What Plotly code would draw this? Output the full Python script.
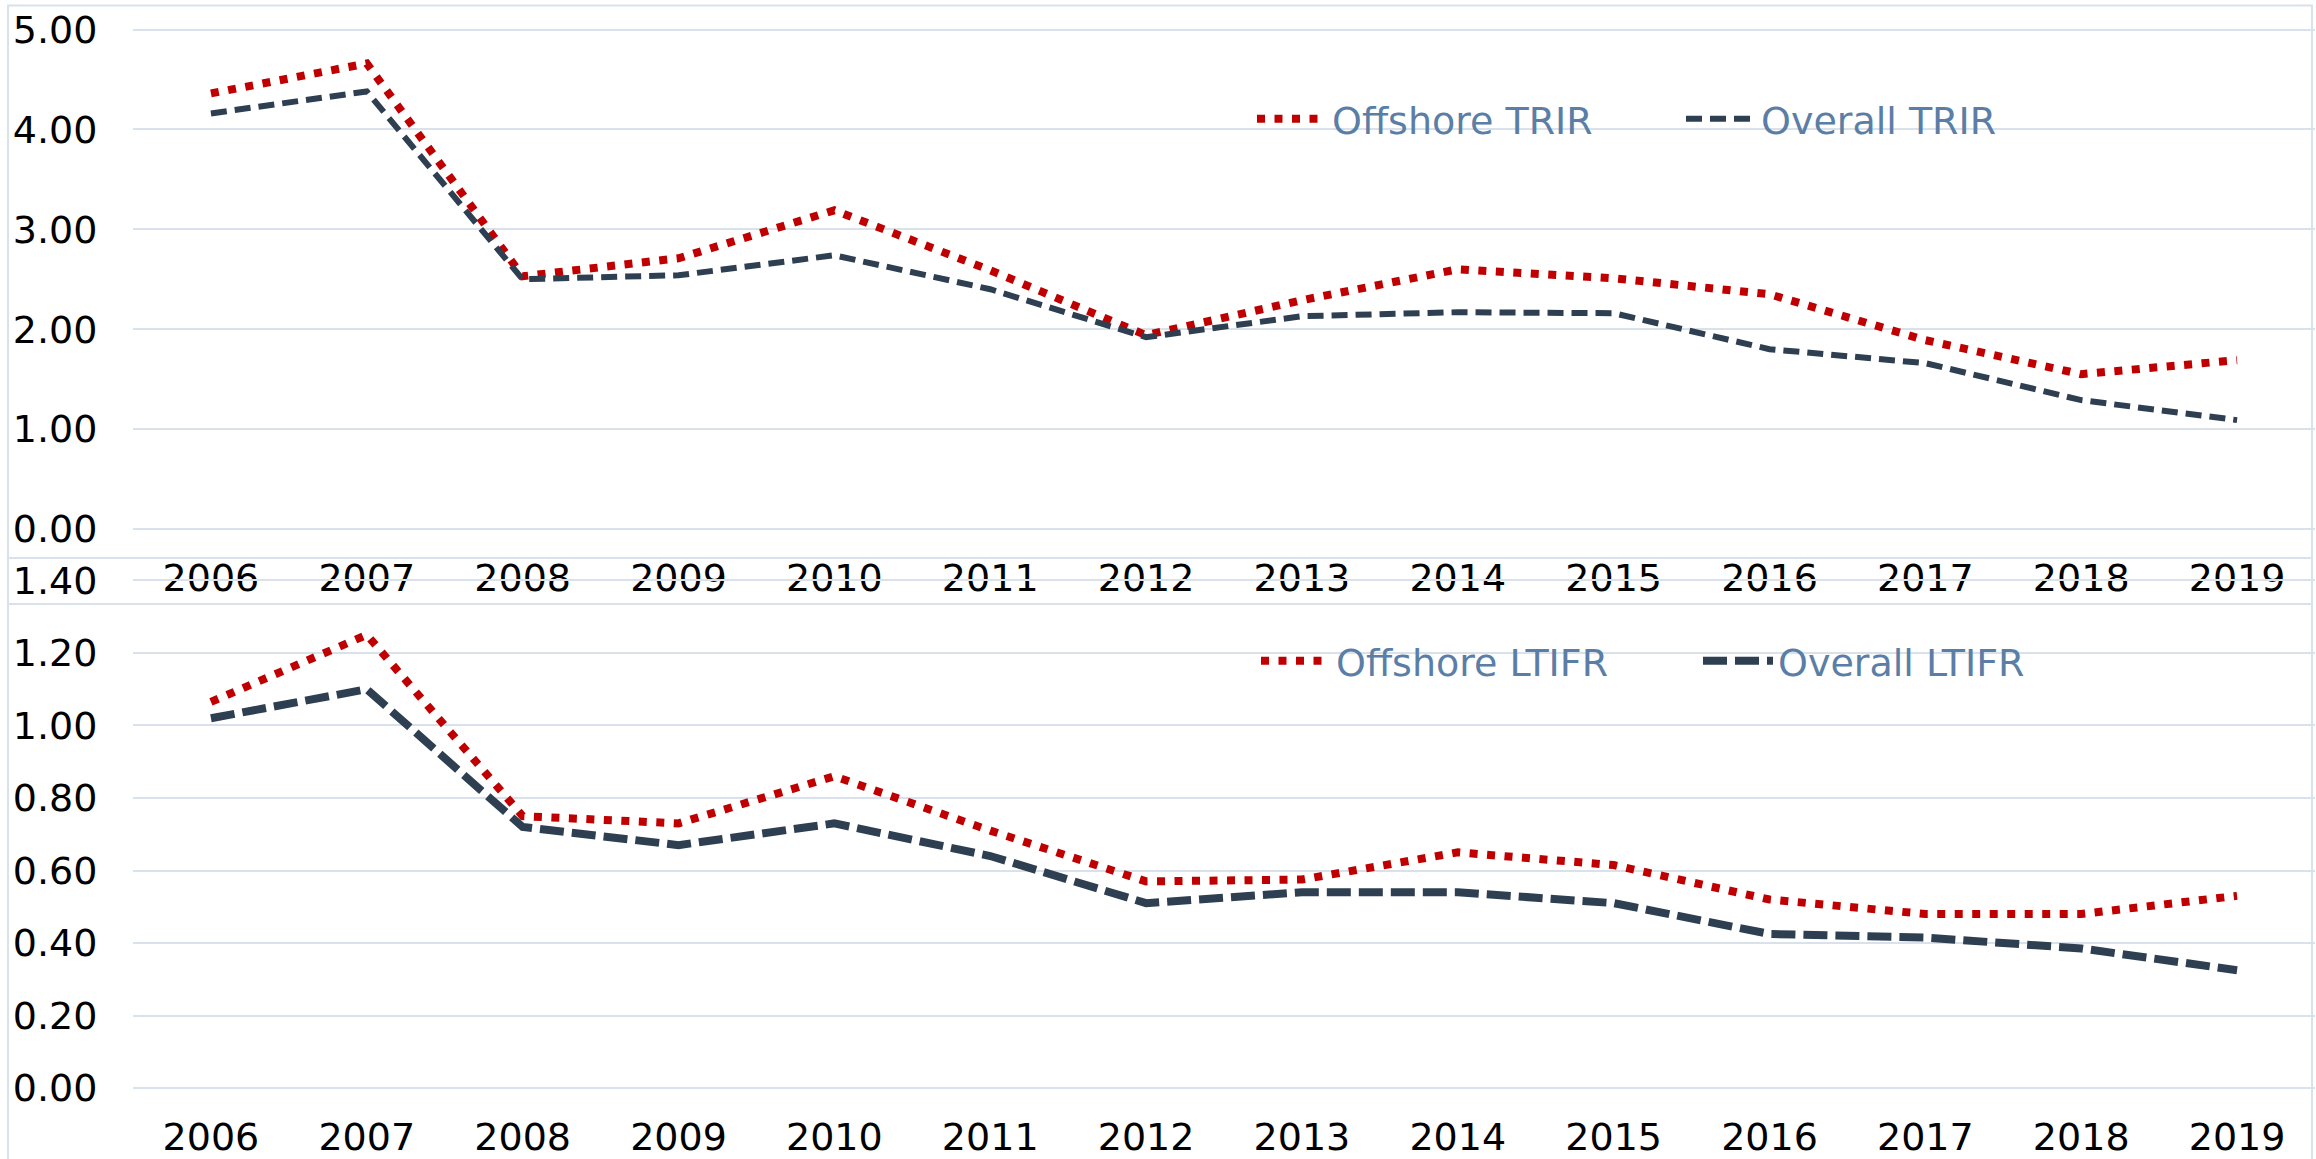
import plotly.graph_objects as go

years = ["2006", "2007", "2008", "2009", "2010", "2011", "2012",
         "2013", "2014", "2015", "2016", "2017", "2018", "2019"]

offshore_trir = [4.36, 4.66, 2.53, 2.71, 3.19, 2.59, 1.94, 2.29, 2.60, 2.51, 2.35, 1.89, 1.55, 1.69]
overall_trir = [4.16, 4.38, 2.50, 2.54, 2.74, 2.40, 1.92, 2.13, 2.17, 2.16, 1.80, 1.66, 1.29, 1.09]

offshore_ltifr = [1.065, 1.25, 0.75, 0.73, 0.86, 0.71, 0.57, 0.575, 0.65, 0.615, 0.52, 0.48, 0.48, 0.53]
overall_ltifr = [1.02, 1.10, 0.72, 0.67, 0.73, 0.64, 0.51, 0.54, 0.54, 0.51, 0.425, 0.415, 0.385, 0.325]

top_ticks = [0, 1, 2, 3, 4, 5]
bottom_ticks = [0, 0.2, 0.4, 0.6, 0.8, 1.0, 1.2, 1.4]

W, H = 2316, 1159
RED = "#c00000"
DARK = "#2e3f52"
GRID = "#d9e1ea"
LEG = "#5b7ea6"
TICKFONT = dict(family="DejaVu Sans, Verdana, sans-serif", size=38, color="#000000")
LEGFONT = dict(family="DejaVu Sans, Verdana, sans-serif", size=38, color=LEG)


def px_x(p):
    return p / W


def px_y(p):
    return 1 - p / H


fig = go.Figure()

fig.add_trace(go.Scatter(x=years, y=offshore_trir, name="Offshore TRIR", mode="lines",
                         line=dict(color=RED, width=8, dash="8px,9.5px"),
                         xaxis="x", yaxis="y", legend="legend"))
fig.add_trace(go.Scatter(x=years, y=overall_trir, name="Overall TRIR", mode="lines",
                         line=dict(color=DARK, width=6, dash="16px,8px"),
                         xaxis="x", yaxis="y", legend="legend"))
fig.add_trace(go.Scatter(x=years, y=offshore_ltifr, name="Offshore LTIFR", mode="lines",
                         line=dict(color=RED, width=8, dash="8px,9.5px"),
                         xaxis="x2", yaxis="y2", legend="legend2"))
fig.add_trace(go.Scatter(x=years, y=overall_ltifr, name="Overall LTIFR", mode="lines",
                         line=dict(color=DARK, width=8, dash="24px,8px"),
                         xaxis="x2", yaxis="y2", legend="legend2"))

# pixel geometry of the two plot areas (value -> pixel row)
top_px0, top_px5 = 529.0, 29.5          # y of 0 and 5
bot_px0, bot_px14 = 1088.0, 580.5       # y of 0 and 1.4
top_unit = (top_px0 - top_px5) / 5
bot_unit = (bot_px0 - bot_px14) / 1.4
top_pad, bot_pad = 0.05, 0.014          # small range padding so edge gridlines are drawn

xdom = [px_x(133), px_x(2315)]
common_x = dict(type="category", categoryorder="array", categoryarray=years,
                range=[-0.5, 13.5], showgrid=False, zeroline=False, showline=False,
                ticks="outside", ticklen=0, tickfont=TICKFONT, ticklabelstandoff=10,
                domain=xdom, fixedrange=True, automargin=False)
common_y = dict(tickformat=".2f", showgrid=True, gridcolor=GRID, gridwidth=2,
                zeroline=False, showline=False, ticks="outside", ticklen=0,
                tickfont=TICKFONT, ticklabelstandoff=27, automargin=False, fixedrange=True,
                ticklabeloverflow="allow")
fig.update_layout(
    width=W, height=H,
    margin=dict(l=0, r=0, t=0, b=0, pad=0),
    paper_bgcolor="white", plot_bgcolor="white",
    xaxis=dict(anchor="y", **common_x),
    xaxis2=dict(anchor="y2", **common_x),
    yaxis=dict(domain=[px_y(top_px0 + top_pad * top_unit), px_y(top_px5 - top_pad * top_unit)],
               range=[-top_pad, 5 + top_pad], tickvals=top_ticks, anchor="x", **common_y),
    yaxis2=dict(domain=[px_y(bot_px0 + bot_pad * bot_unit), px_y(bot_px14 - bot_pad * bot_unit)],
                range=[-bot_pad, 1.4 + bot_pad], tickvals=bottom_ticks, anchor="x2", **common_y),
    legend=dict(orientation="h", x=px_x(1252), xanchor="left", y=px_y(119), yanchor="middle",
                font=LEGFONT, bgcolor="rgba(0,0,0,0)", entrywidth=344, itemwidth=70,
                traceorder="normal"),
    legend2=dict(orientation="h", x=px_x(1256), xanchor="left", y=px_y(661), yanchor="middle",
                 font=LEGFONT, bgcolor="rgba(0,0,0,0)", entrywidth=357, itemwidth=70,
                 traceorder="normal"),
    shapes=[
        dict(type="rect", xref="paper", yref="paper", x0=px_x(8), x1=px_x(2312),
             y0=px_y(604), y1=px_y(5.5), line=dict(color=GRID, width=2), layer="below"),
        dict(type="rect", xref="paper", yref="paper", x0=px_x(8), x1=px_x(2312),
             y0=px_y(1170), y1=px_y(558), line=dict(color=GRID, width=2), layer="below"),
    ],
)

fig.write_html("out.html", config={"displayModeBar": False},
               post_script="document.body.style.margin='0';document.body.style.overflow='hidden';")
